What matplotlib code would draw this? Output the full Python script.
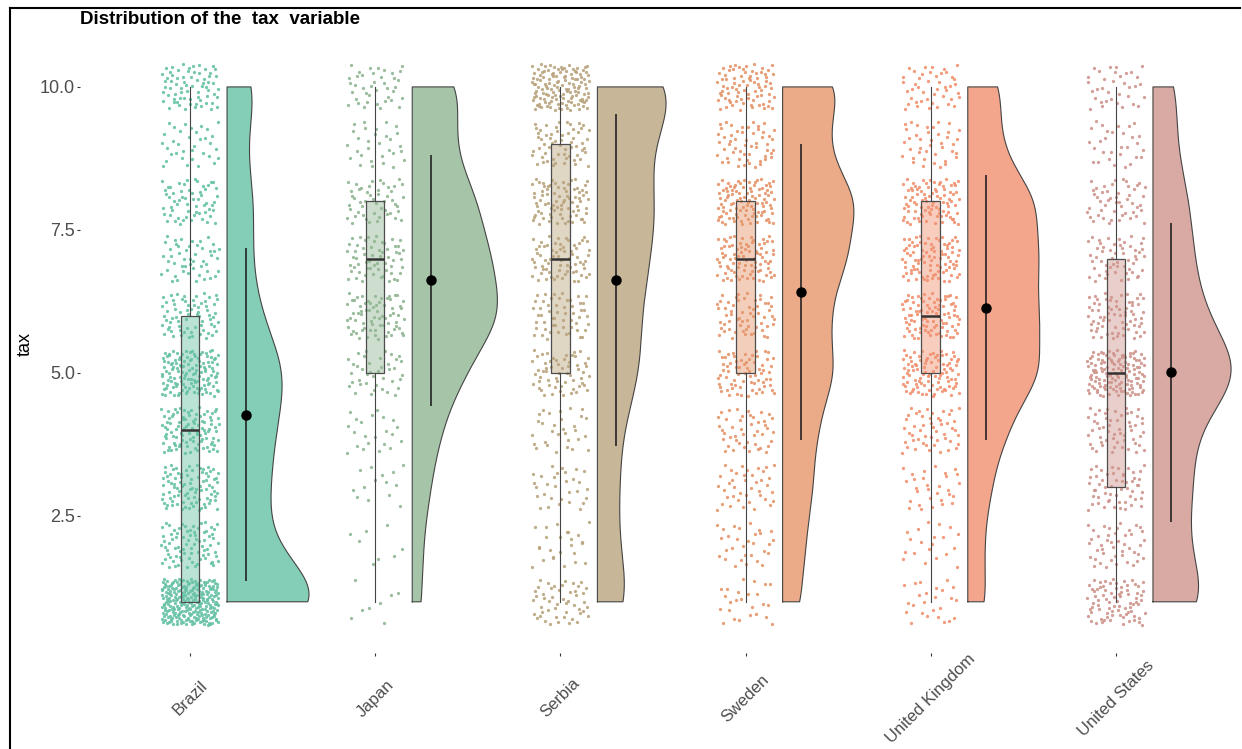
import numpy as np
import matplotlib
matplotlib.use("Agg")
import matplotlib.pyplot as plt
from matplotlib.lines import Line2D

plt.rcParams['font.family'] = ['Liberation Sans', 'DejaVu Sans']

countries = ["Brazil", "Japan", "Serbia", "Sweden", "United Kingdom", "United States"]
tax_levels = np.arange(1, 11)

brazil_counts = [250, 80, 90, 100, 130, 70, 50, 60, 35, 70]
japan_counts = [8, 8, 14, 22, 40, 70, 60, 50, 30, 40]
serbia_counts = [50, 25, 30, 30, 60, 55, 70, 80, 60, 130]
sweden_counts = [25, 30, 40, 45, 70, 60, 85, 100, 55, 80]
uk_counts = [25, 20, 30, 50, 95, 90, 90, 90, 40, 45]
us_counts = [80, 45, 55, 55, 130, 70, 55, 50, 30, 35]

group_counts = [brazil_counts, japan_counts, serbia_counts,
                sweden_counts, uk_counts, us_counts]
colors = ['#66c2a5', '#90b693', '#baa47e', '#e6956a', '#f1906f', '#cf958c']


def halton(n, base, start=0):
    """Deterministic low-discrepancy sequence in [0, 1), used for jitter."""
    out = np.zeros(n)
    for i in range(n):
        f, r, k = 1.0, 0.0, i + 1 + start
        while k > 0:
            f /= base
            r += f * (k % base)
            k //= base
        out[i] = r
    return out


def kde_nrd0(values, grid):
    """Gaussian KDE with R's default bandwidth (bw.nrd0)."""
    n = len(values)
    sd = values.std(ddof=1)
    q1, q3 = np.percentile(values, [25, 75])
    bw = 0.9 * min(sd, (q3 - q1) / 1.34) * n ** (-0.2)
    z = (grid[:, None] - values[None, :]) / bw
    return np.exp(-0.5 * z ** 2).sum(axis=1) / (n * bw * np.sqrt(2 * np.pi))


fig = plt.figure(figsize=(12.42, 7.49), dpi=100)
ax = fig.add_axes([80 / 1242, 1 - 653 / 749, 1160 / 1242, 617 / 749])

positions = np.arange(len(countries))
samples = [np.repeat(tax_levels, c).astype(float) for c in group_counts]

# points (jittered)
for i, (vals, col) in enumerate(zip(samples, colors)):
    n = len(vals)
    jx = (halton(n, 2, start=97 * i) - 0.5) * 0.31
    jy = (halton(n, 3, start=131 * i) - 0.5) * 0.8
    ax.scatter(positions[i] + jx, vals + jy, s=5.5, color=col, alpha=0.9,
               linewidths=0, zorder=1)

# box plots
bp = ax.boxplot(samples, positions=positions, widths=0.1, patch_artist=True,
                showcaps=False, showfliers=False, whis=1.5, manage_ticks=False,
                zorder=2)
for patch, col in zip(bp['boxes'], colors):
    patch.set_facecolor(matplotlib.colors.to_rgba(col, 0.45))
    patch.set_edgecolor('#4d4d4d')
    patch.set_linewidth(0.9)
for w in bp['whiskers']:
    w.set_color('#444444')
    w.set_linewidth(0.8)
for m in bp['medians']:
    m.set_color('#333333')
    m.set_linewidth(1.8)

# half violins, scaled by area
grid = np.linspace(1, 10, 300)
dens = [kde_nrd0(v, grid) for v in samples]
dmax = max(d.max() for d in dens)
for i, (d, col) in enumerate(zip(dens, colors)):
    x0 = positions[i] + 0.2
    w = d / dmax * 0.46
    xs = np.concatenate([[x0, x0], x0 + w[::-1], [x0]])
    ys = np.concatenate([[1, 10], grid[::-1], [1]])
    ax.fill(xs, ys, facecolor=col, alpha=0.8, edgecolor='none', zorder=2)
    ax.plot(xs, ys, color='#444444', linewidth=0.8, zorder=2.5)

# mean +/- sd
for i, vals in enumerate(samples):
    m = vals.mean()
    s = vals.std(ddof=1)
    xm = positions[i] + 0.3
    ax.plot([xm, xm], [m - s, m + s], color='#222222', alpha=0.85,
            linewidth=1.4, zorder=3)
    ax.plot(xm, m, 'o', color='black', markersize=6.5, zorder=4)

ax.set_xlim(-0.594, 5.67)
ax.set_ylim(0.105, 10.89)
for sp in ax.spines.values():
    sp.set_visible(False)

ax.set_yticks([2.5, 5.0, 7.5, 10.0])
ax.set_yticklabels(['2.5', '5.0', '7.5', '10.0'])
ax.tick_params(axis='y', length=2.5, width=0.8, color='#333333',
               labelcolor='#4d4d4d', labelsize=13, pad=1)
ax.set_xticks(positions)
ax.set_xticklabels(countries, rotation=45, ha='center', va='center')
ax.tick_params(axis='x', length=2.5, width=0.8, color='#333333',
               labelcolor='#4d4d4d', labelsize=12, pad=30)

ax.set_ylabel('tax', fontsize=13)
ax.yaxis.set_label_coords(-0.040, 0.5)

fig.text(80 / 1242, 1 - 20 / 749, 'Distribution of the  tax  variable',
         fontsize=13.5, fontweight='bold', ha='left', va='center')

# page frame around the figure
fig.add_artist(Line2D([10 / 1242, 10 / 1242], [0, 1 - 8 / 749],
                      color='black', linewidth=1.5))
fig.add_artist(Line2D([10 / 1242, 1240 / 1242], [1 - 8 / 749, 1 - 8 / 749],
                      color='black', linewidth=1.5))

fig.savefig('out.png', dpi=100)
